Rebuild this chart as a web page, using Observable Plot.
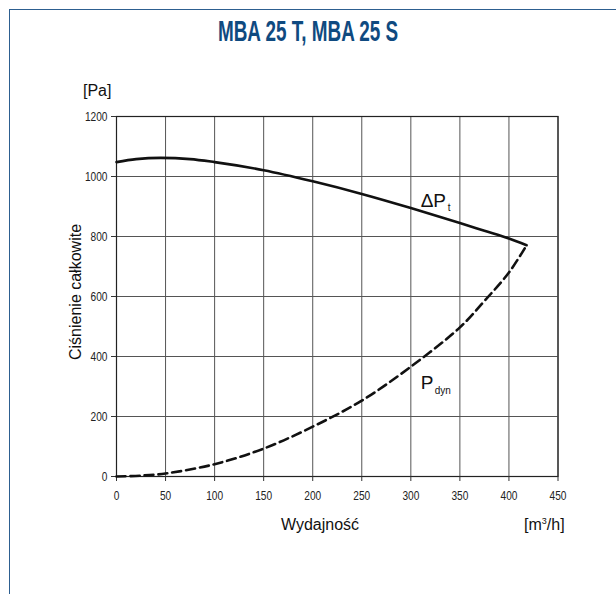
<!DOCTYPE html>
<html>
<head>
<meta charset="utf-8">
<script src="https://cdn.jsdelivr.net/npm/d3@7"></script>
<script src="https://cdn.jsdelivr.net/npm/@observablehq/plot@0.6"></script>
<style>
  html, body { margin: 0; padding: 0; background: #fff; }
  #wrap { position: relative; width: 616px; height: 594px; overflow: hidden; font-family: "Liberation Sans", Arial, sans-serif; }
  #border { position: absolute; left: 9px; top: 9px; right: -2px; bottom: -2px; border-top: 1.5px solid #2d5f90; border-left: 1.5px solid #2d5f90; }
  #title { position: absolute; left: 0; width: 616px; top: 14px; text-align: center; }
  #title span { display: inline-block; font-family: "Liberation Sans", Arial, sans-serif; font-weight: bold; font-size: 30px; color: #0f4a80; transform: scaleX(0.63); transform-origin: center; white-space: nowrap; }
  .lab { position: absolute; color: #111; font-size: 16px; white-space: nowrap; }
  #chart { position: absolute; left: 0; top: 0; }
</style>
</head>
<body>
<div id="wrap">
  <div id="border"></div>
  <div id="chart"></div>
  <div id="title"><span>MBA 25 T, MBA 25 S</span></div>
  <div class="lab" id="pa" style="left:83px; top:82px;">[Pa]</div>
  <div class="lab" id="ylab" style="left:76px; top:292px; transform: translate(-50%,-50%) rotate(-90deg);">Ciśnienie całkowite</div>
  <div class="lab" id="xlab" style="left:281px; top:516px;">Wydajność</div>
  <div class="lab" id="unit" style="left:524px; top:516px;">[m<sup style="font-size:9px;">3</sup>/h]</div>
</div>
<script>
// Total pressure curve ΔPt
const flowPt = [0, 20, 45, 75, 100, 150, 200, 250, 300, 350, 375, 400, 418];
const valPt  = [1048, 1058, 1062, 1058, 1048, 1021, 984, 942, 895, 845, 819, 793, 771];
// Dynamic pressure curve Pdyn
const flowPd = [0, 25, 50, 100, 150, 200, 250, 300, 350, 375, 400, 418];
const valPd  = [0, 3, 10, 41, 93, 166, 253, 366, 497, 585, 680, 771];
// Axis ticks
const xTicks = [0, 50, 100, 150, 200, 250, 300, 350, 400, 450];
const yTicks = [0, 200, 400, 600, 800, 1000, 1200];
// Curve labels (data coordinates)
const curveLabels = [
  {name: "ΔP", sub: "t", x: 310, y: 897},
  {name: "P", sub: "dyn", x: 310, y: 293}
];

const pt = flowPt.map((x, i) => ({x, y: valPt[i]}));
const pd = flowPd.map((x, i) => ({x, y: valPd[i]}));
const sans = '"Liberation Sans", Arial, sans-serif';

const chart = Plot.plot({
  width: 616,
  height: 594,
  marginLeft: 116,
  marginRight: 58.5,
  marginTop: 116,
  marginBottom: 118,
  style: {background: "transparent", fontFamily: sans, fontSize: "12px", color: "#222"},
  x: {domain: [0, 450]},
  y: {domain: [0, 1200]},
  marks: [
    Plot.gridX(xTicks, {stroke: "#555", strokeOpacity: 1, strokeWidth: 1}),
    Plot.gridY(yTicks, {stroke: "#555", strokeOpacity: 1, strokeWidth: 1}),
    Plot.frame({stroke: "#222", strokeWidth: 1.2}),
    Plot.axisX(xTicks, {tickSize: 5, tickPadding: 9, label: null, fontSize: 13, stroke: "#333", tickFormat: d => String(d)}),
    Plot.axisY(yTicks, {tickSize: 5, tickPadding: 4, label: null, fontSize: 13, stroke: "#333", tickFormat: d => String(d)}),
    Plot.line(pt, {x: "x", y: "y", curve: "monotone-x", stroke: "#111", strokeWidth: 2.6, strokeLinejoin: "miter"}),
    Plot.line(pd, {x: "x", y: "y", curve: "catmull-rom", stroke: "#111", strokeWidth: 2.6, strokeDasharray: "9,5"}),
    Plot.text(curveLabels, {x: "x", y: "y", text: "name", textAnchor: "start", lineAnchor: "bottom", fontSize: 19, fontFamily: sans, fill: "#111"}),
    Plot.text([curveLabels[0]], {x: "x", y: "y", text: "sub", textAnchor: "start", lineAnchor: "bottom", dx: 27, dy: 4, fontSize: 10, fontFamily: sans, fill: "#111"}),
    Plot.text([curveLabels[1]], {x: "x", y: "y", text: "sub", textAnchor: "start", lineAnchor: "bottom", dx: 14, dy: 5, fontSize: 10, fontFamily: sans, fill: "#111"})
  ]
});
document.getElementById("chart").appendChild(chart);
// condense the tick labels like the reference's narrow typeface
chart.querySelectorAll('g[aria-label$="tick label"] text').forEach(t => {
  const len = t.getComputedTextLength();
  t.setAttribute("textLength", (len * 0.78).toFixed(2));
  t.setAttribute("lengthAdjust", "spacingAndGlyphs");
});
</script>
</body>
</html>
